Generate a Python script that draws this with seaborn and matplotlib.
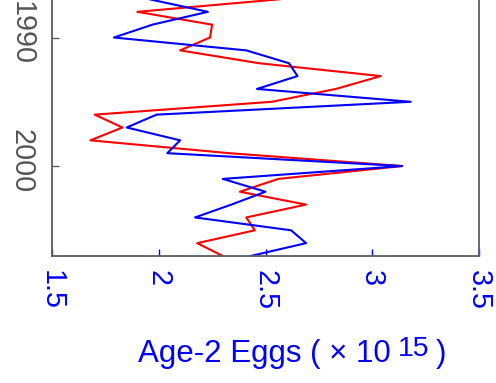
import numpy as np
import pandas as pd
import matplotlib
matplotlib.use("Agg")
import matplotlib.pyplot as plt
import matplotlib.transforms as mtransforms
import seaborn as sns

# Yearly series (values in units of 1e15 eggs)
years = [1987, 1988, 1989, 1990, 1991, 1992, 1993, 1994, 1995, 1996, 1997,
         1998, 1999, 2000, 2001, 2002, 2003, 2004, 2005, 2006, 2007]
red_eggs = [2.58, 1.90, 2.25, 2.24, 2.10, 2.47, 3.04, 2.83, 2.53, 1.70, 1.83,
            1.68, 2.33, 3.14, 2.56, 2.38, 2.69, 2.41, 2.45, 2.18, 2.30]
blue_eggs = [1.95, 2.23, 1.97, 1.79, 2.41, 2.61, 2.65, 2.46, 3.18, 1.99, 1.85,
             2.10, 2.04, 3.14, 2.30, 2.50, 2.34, 2.17, 2.62, 2.69, 2.43]

x_ticks = [1.5, 2, 2.5, 3, 3.5]
x_ticklabels = ["1.5", "2", "2.5", "3", "3.5"]
y_ticks = [1990, 2000]
y_ticklabels = ["1990", "2000"]

sns.set_style("ticks")
plt.rcParams["font.family"] = ["Liberation Sans", "DejaVu Sans"]

W, H = 496, 383
fig = plt.figure(figsize=(W / 100, H / 100), dpi=100)
ax = fig.add_axes([52 / W, 127 / H, 427 / W, 256 / H])

df = pd.DataFrame({"year": years, "red": red_eggs, "blue": blue_eggs})
sns.lineplot(data=df, x="red", y="year", orient="y", estimator=None,
             color="#ff0000", linewidth=1.5, ax=ax)
sns.lineplot(data=df, x="blue", y="year", orient="y", estimator=None,
             color="#0000ff", linewidth=1.5, ax=ax)

ax.set_xlim(1.5, 3.5)
ax.set_ylim(2007.0, 1987.08)
ax.set_xlabel("")
ax.set_ylabel("")

spine_color = "#5c5c66"
ax.spines["top"].set_visible(False)
for side in ("left", "right", "bottom"):
    ax.spines[side].set_color(spine_color)
    ax.spines[side].set_linewidth(1.3)

ax.set_xticks(x_ticks)
ax.set_xticklabels(x_ticklabels)
ax.set_yticks(y_ticks)
ax.set_yticklabels(y_ticklabels)

ax.tick_params(axis="x", direction="in", length=5, width=1.0, color="#0000ff",
               labelcolor="#0000ff", labelsize=20.7, pad=10, labelrotation=-90)
ax.tick_params(axis="y", direction="in", length=5, width=1.0, color=spine_color,
               labelcolor="#555555", labelsize=20.7, pad=12, labelrotation=-90)

shift = mtransforms.ScaledTranslation(0, 5 / 100, fig.dpi_scale_trans)
for lab in ax.get_yticklabels():
    lab.set_va("center")
    lab.set_transform(lab.get_transform() + shift)

# x-axis label with a full-size raised exponent
fig.text(138 / W, (H - 362) / H, "Age-2 Eggs ( \u00d7 10", color="#0000ff",
         fontsize=22.5, ha="left", va="baseline")
fig.text(398 / W, (H - 356) / H, "15", color="#0000ff",
         fontsize=20.5, ha="left", va="baseline")
fig.text(436 / W, (H - 362) / H, ")", color="#0000ff",
         fontsize=22.5, ha="left", va="baseline")

fig.savefig("out.png", dpi=100)
